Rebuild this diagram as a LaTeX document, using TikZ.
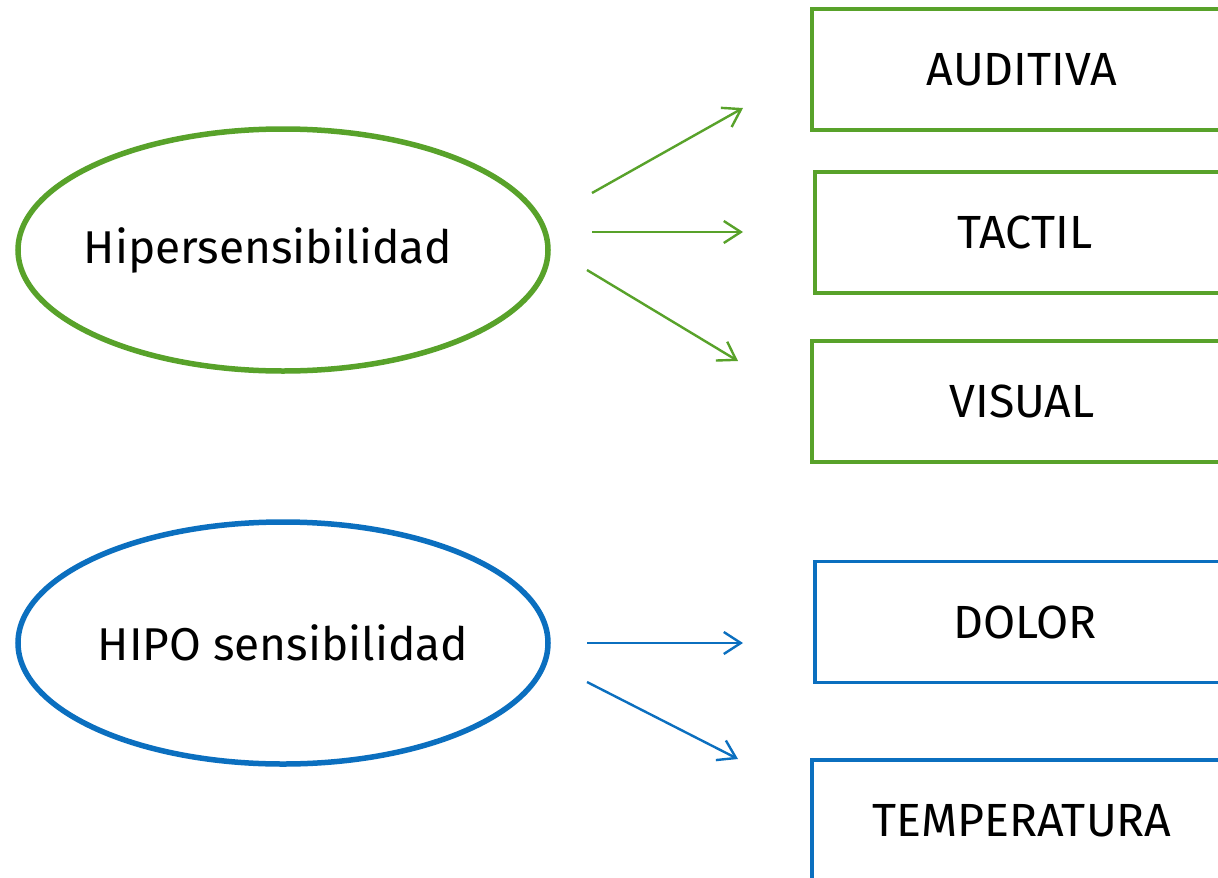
\documentclass[tikz,border=0pt]{standalone}
\usepackage{fontspec}
\setmainfont{Fira Sans}
\usetikzlibrary{shapes.geometric,arrows.meta}
\definecolor{vgreen}{HTML}{58A22A}
\definecolor{vblue}{HTML}{0B6FBF}
\tikzset{
  oval/.style={ellipse, draw, line width=5.5pt, minimum width=530pt, minimum height=242pt, inner sep=0pt, font=\fontsize{46}{54}\selectfont},
  catbox/.style={rectangle, draw, line width=3.5pt, minimum width=420pt, minimum height=121pt, inner sep=0pt, font=\fontsize{46.5}{54}\selectfont},
  conn/.style={line width=2.4pt, -{Straight Barb[length=17pt,width=22pt,line width=2.4pt]}},
}
\begin{document}
\begin{tikzpicture}[x=1pt,y=-1pt]
\clip (0,0) rectangle (1218,878);
\fill[white] (0,0) rectangle (1218,878);
% ellipses
\node[oval, vgreen, text=black] (hiper) at (283,250) {\hspace*{-30pt}Hipersensibilidad};
\node[oval, vblue, text=black] (hipo) at (283,643) {HIPO sensibilidad};
% boxes
\node[catbox, vgreen, text=black] (aud) at (1022,69.5) {AUDITIVA};
\node[catbox, vgreen, text=black] (tac) at (1025,232.5) {TACTIL};
\node[catbox, vgreen, text=black] (vis) at (1022,401.5) {VISUAL};
\node[catbox, vblue, text=black] (dol) at (1025,622) {DOLOR};
\node[catbox, vblue, text=black] (tem) at (1022,820.5) {TEMPERATURA};
% arrow end points
\coordinate (g1s) at (592,193); \coordinate (g1e) at (743,108);
\coordinate (g2s) at (592,232); \coordinate (g2e) at (743,232);
\coordinate (g3s) at (587,270); \coordinate (g3e) at (738,361);
\coordinate (b1s) at (587,643); \coordinate (b1e) at (743,643);
\coordinate (b2s) at (587,682); \coordinate (b2e) at (738,759);
\draw[conn, vgreen] (g1s) -- (g1e);
\draw[conn, vgreen] (g2s) -- (g2e);
\draw[conn, vgreen] (g3s) -- (g3e);
\draw[conn, vblue] (b1s) -- (b1e);
\draw[conn, vblue] (b2s) -- (b2e);
\end{tikzpicture}
\end{document}
